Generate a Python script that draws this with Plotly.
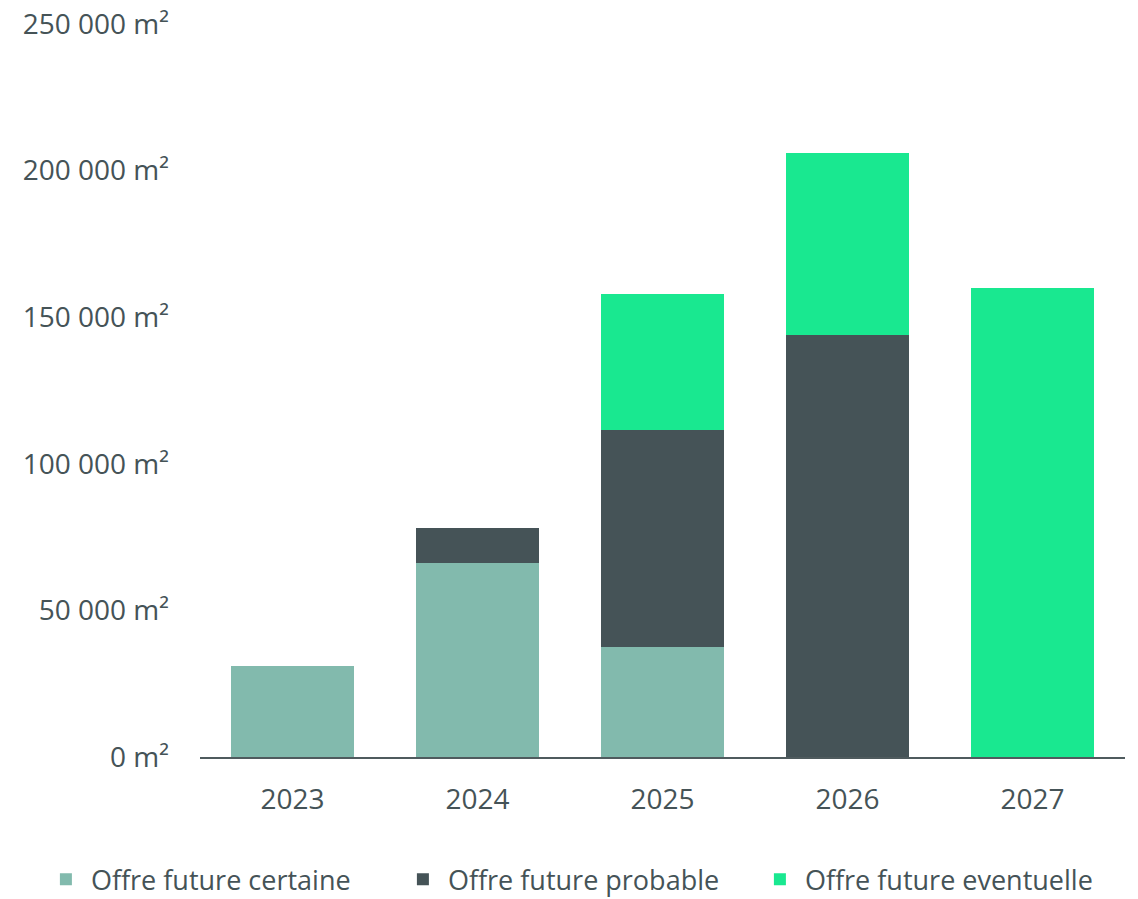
import plotly.graph_objects as go

# Future office supply by year (m²)
years = ["2023", "2024", "2025", "2026", "2027"]
certaine = [31000, 66000, 37500, 0, 0]
probable = [0, 12000, 74000, 144000, 0]
eventuelle = [0, 0, 46500, 62000, 160000]

tick_vals = [0, 50000, 100000, 150000, 200000, 250000]
tick_text = ["0 m²", "50 000 m²", "100 000 m²", "150 000 m²", "200 000 m²", "250 000 m²"]

text_color = "#455357"
font_family = "Open Sans"

fig = go.Figure()
series = [
    ("Offre future certaine", certaine, "#82BAAD"),
    ("Offre future probable", probable, "#455357"),
    ("Offre future eventuelle", eventuelle, "#19E890"),
]
for name, vals, color in series:
    fig.add_trace(go.Bar(
        name=name, x=years, y=vals,
        marker=dict(color=color, line=dict(width=0)),
    ))

fig.update_layout(
    barmode="stack",
    bargap=0.335,
    width=1138, height=899,
    margin=dict(l=200, r=13, t=24, b=142, autoexpand=False),
    paper_bgcolor="white",
    plot_bgcolor="white",
    font=dict(family=font_family, size=28, color=text_color),
    showlegend=True,
    legend=dict(
        orientation="h",
        traceorder="normal",
        x=-0.172, xanchor="left",
        y=-0.134, yanchor="top",
        font=dict(size=27, color=text_color),
        entrywidth=302,
        itemwidth=40,
        tracegroupgap=0,
    ),
)
fig.update_xaxes(
    showgrid=False, automargin=False,
    showline=True, linecolor="#4F5B5E", linewidth=2,
    ticks="", ticklabelstandoff=16,
)
fig.update_yaxes(
    range=[0, 250000], automargin=False,
    tickvals=tick_vals, ticktext=tick_text,
    showgrid=False, zeroline=False, showline=False,
    ticks="", ticklabelstandoff=30,
)

fig.write_html("out.html")
